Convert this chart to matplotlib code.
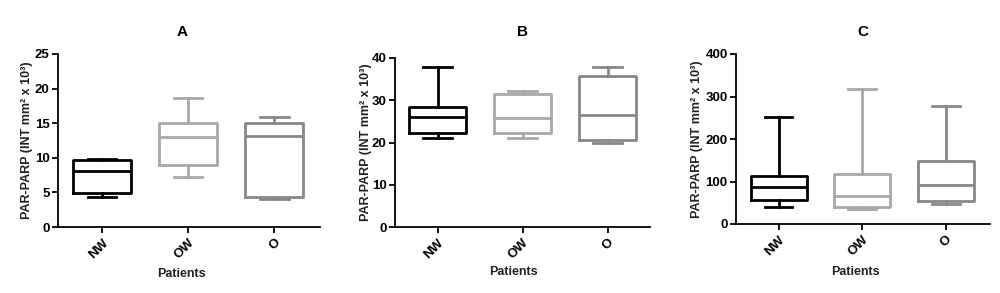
import matplotlib
matplotlib.use("Agg")
import matplotlib.pyplot as plt

plt.rcParams['font.family'] = ['Liberation Sans', 'DejaVu Sans']

groups = ["NW", "OW", "O"]
colors = ["#000000", "#a8a8a8", "#888888"]

# (whislo, q1, med, q3, whishi)
panel_A = [(4.4, 4.97, 8.1, 9.65, 9.8),
           (7.2, 8.9, 13.0, 15.06, 18.7),
           (4.05, 4.4, 13.1, 15.06, 15.9)]
panel_B = [(21.1, 22.3, 26.1, 28.3, 37.9),
           (21.1, 22.3, 25.7, 31.5, 32.2),
           (20.0, 20.6, 26.6, 35.8, 37.9)]
panel_C = [(39, 57, 88, 114, 252),
           (34.5, 41, 67, 118, 318),
           (47, 53, 92.5, 149, 277)]

titles = ["A", "B", "C"]
ylims = [(0, 25), (0, 40), (0, 400)]
yticks = [[0, 5, 10, 15, 20, 25], [0, 10, 20, 30, 40], [0, 100, 200, 300, 400]]
ylabel = "PAR-PARP (INT mm² x 10³)"
xlabel = "Patients"

W, H = 1000, 293
fig = plt.figure(figsize=(W / 100, H / 100), dpi=100)

# pixel geometry: left, right, top, bottom
geo = [(58, 320, 54, 227), (395, 650, 58, 227), (736, 990, 54, 224)]
xlims = [(0.49, 3.53), (0.5, 3.5), (0.49, 3.53)]
title_x = [182, 522, 863]
title_y = 32
xlab_pos = [(181, 274), (513, 272), (855, 272)]
ylab_x = [27, 366, 697]

for i, data in enumerate([panel_A, panel_B, panel_C]):
    l, r, t, b = geo[i]
    ax = fig.add_axes([l / W, 1 - b / H, (r - l) / W, (b - t) / H])
    stats = []
    for g, (lo, q1, med, q3, hi) in zip(groups, data):
        stats.append(dict(label=g, whislo=lo, q1=q1, med=med, q3=q3, whishi=hi, fliers=[]))
    parts = ax.bxp(stats, positions=[1, 2, 3], widths=0.67, capwidths=0.33,
                   showfliers=False, patch_artist=False)
    for k, c in enumerate(colors):
        lw = 2.0
        parts['boxes'][k].set(color=c, linewidth=lw)
        parts['medians'][k].set(color=c, linewidth=lw)
        for w in parts['whiskers'][2 * k:2 * k + 2]:
            w.set(color=c, linewidth=lw)
        for cp in parts['caps'][2 * k:2 * k + 2]:
            cp.set(color=c, linewidth=lw)
    ax.set_xlim(*xlims[i])
    ax.set_ylim(*ylims[i])
    ax.set_yticks(yticks[i])
    ax.set_xticks([1, 2, 3])
    ax.set_xticklabels(groups, rotation=45, ha='right', rotation_mode='anchor',
                       fontsize=9.5, fontweight='bold')
    for lab in ax.get_yticklabels():
        lab.set_fontsize(9.5)
        lab.set_fontweight('bold')
    for s in ['top', 'right']:
        ax.spines[s].set_visible(False)
    for s in ['left', 'bottom']:
        ax.spines[s].set_linewidth(1.3)
    ax.tick_params(direction='out', length=4, width=1.3, pad=2)
    ax.tick_params(axis='x', pad=3)

    fig.text(title_x[i] / W, 1 - title_y / H, titles[i], ha='center', va='center',
             fontsize=11, fontweight='bold')
    fig.text(xlab_pos[i][0] / W, 1 - xlab_pos[i][1] / H, xlabel, ha='center', va='center',
             fontsize=9, fontweight='bold', color='#222222')
    fig.text(ylab_x[i] / W, 1 - ((t + b) / 2) / H, ylabel, ha='center', va='center',
             rotation=90, fontsize=9, fontweight='bold', color='#222222')

fig.savefig("out.png", dpi=100)
